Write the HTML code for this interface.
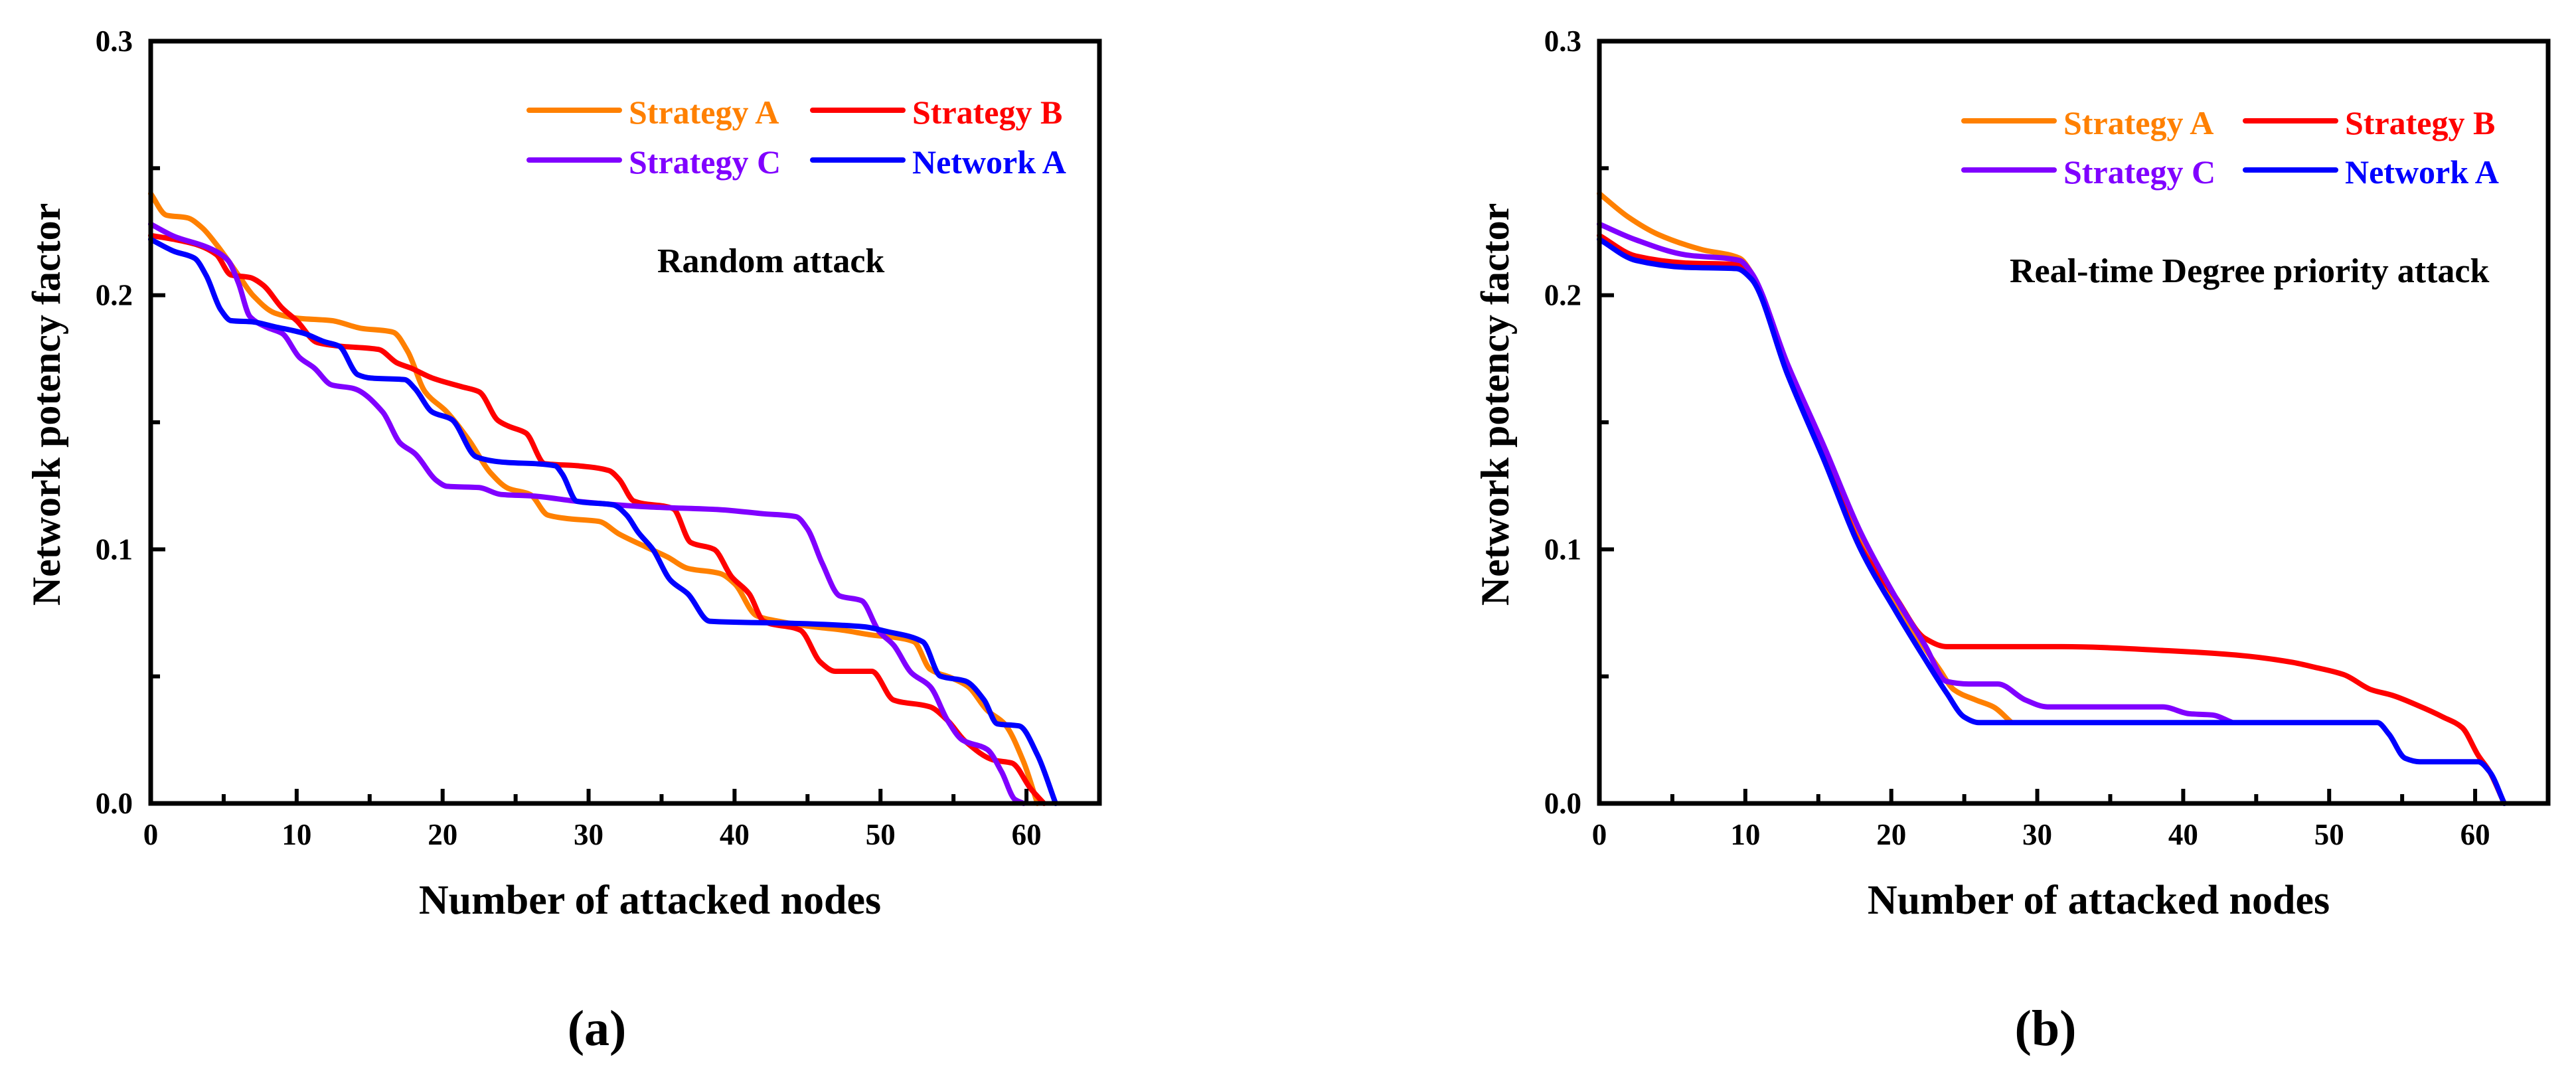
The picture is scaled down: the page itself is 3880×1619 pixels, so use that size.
<!DOCTYPE html>
<html><head><meta charset="utf-8"><style>
html,body{margin:0;padding:0;background:#fff;}
svg{display:block;font-family:"Liberation Serif",serif;}
svg text{font-family:"Liberation Serif",serif;font-weight:bold;}
</style></head>
<body>
<svg id="fig" width="3880" height="1619" viewBox="0 0 3880 1619" font-family="Liberation Serif, serif" xmlns="http://www.w3.org/2000/svg"></svg>
<script>
// ---- Panel (a): Random attack ----
const aStratA_x=[0,1.08,2.5,3.5,4.5,6,7,8.5,10,12.4,14.4,16.6,17.6,18.8,20.3,21.8,23.3,24.5,26,27.2,28.7,30.7,32.1,33.9,35.4,36.8,39,40,41.5,43,45,47.4,49.4,51.4,52.3,53.4,54.9,56,57.3,58.5,59.8,60.75];
const aStratA_y=[0.240,0.2315,0.2305,0.2267,0.220,0.208,0.2,0.193,0.191,0.190,0.187,0.1855,0.178,0.162,0.154,0.143,0.130,0.124,0.1216,0.1135,0.112,0.111,0.106,0.101,0.097,0.0925,0.0905,0.0865,0.0739,0.0717,0.0698,0.0682,0.0663,0.065,0.0636,0.0528,0.0493,0.046,0.0367,0.0313,0.0164,0];
const aStratB_x=[0,1.6,3.1,4.5,5.5,6.8,7.7,9,10,11.4,12.9,15.6,16.9,17.8,19.3,21.3,22.5,23.8,24.5,25.7,27,29.2,31.4,32.1,33.1,35.8,37,38.6,39.8,41,42,44.5,45.9,46.9,49.4,50.9,53.4,54.6,55.8,57.8,59,60.3,61.2];
const aStratB_y=[0.2235,0.222,0.220,0.216,0.208,0.207,0.204,0.195,0.190,0.1814,0.180,0.1787,0.1733,0.1714,0.1674,0.164,0.162,0.1507,0.1485,0.1458,0.1337,0.1329,0.131,0.1275,0.119,0.116,0.1027,0.1,0.0892,0.0825,0.0717,0.0682,0.0555,0.052,0.052,0.0407,0.038,0.0326,0.0245,0.017,0.0159,0.0057,0];
const aStratC_x=[0,1.6,4,5.3,6,6.8,8,9,10.2,11.2,12.4,13.9,15.9,17.1,18.1,19.6,20.3,22.5,24,26.2,29.2,34.1,39,42,44.2,45,46,47.2,48.7,49.9,50.9,52.1,53.4,54.6,55.6,57.3,58.3,59.2,59.8];
const aStratC_y=[0.228,0.2232,0.2186,0.2137,0.205,0.1916,0.1873,0.185,0.1755,0.1714,0.1647,0.1633,0.154,0.1418,0.1377,0.127,0.1248,0.1243,0.1216,0.121,0.1189,0.1167,0.1156,0.114,0.1129,0.108,0.0946,0.0817,0.0798,0.0677,0.0623,0.0515,0.046,0.0326,0.025,0.0213,0.0124,0.0016,0];
const aNetA_x=[0,1.6,3,3.8,4.8,5.5,7,8.5,10.5,11.9,12.9,14.2,15.1,17.4,18.1,19.3,20.6,22.3,23.8,27.7,28.2,29.2,31.7,32.6,33.4,34.4,35.6,36.8,38.3,44,48.9,50.4,52.9,54.1,55.8,57.1,58,59.5,60.75,62];
const aNetA_y=[0.222,0.2173,0.2146,0.2078,0.1943,0.190,0.1895,0.1876,0.185,0.1817,0.180,0.1687,0.1674,0.1668,0.1633,0.154,0.1512,0.1364,0.1345,0.1329,0.1296,0.1189,0.1175,0.1135,0.1067,0.1,0.0879,0.0825,0.0717,0.0709,0.0695,0.0677,0.0636,0.0501,0.0482,0.0407,0.0313,0.0305,0.0191,0];
// ---- Panel (b): Real-time Degree priority attack ----
const bStratA_x=[0,2,4,7,9.6,10.4,12.9,15.4,17.9,20.3,23.3,24.3,25.8,27,28.2];
const bStratA_y=[0.240,0.2307,0.224,0.218,0.2146,0.209,0.17,0.1377,0.1027,0.0784,0.0528,0.0447,0.0407,0.038,0.032];
const bStratB_x=[0,2.5,5.9,9.6,10.4,12.9,15.4,17.9,20.3,22.3,23.8,31.7,39,44,47.5,49,51,52.9,54.3,56.1,57.8,59.1,60.2,61,62];
const bStratB_y=[0.2235,0.2154,0.2127,0.212,0.2078,0.170,0.137,0.101,0.0811,0.065,0.0617,0.0617,0.0601,0.0582,0.0555,0.0536,0.0507,0.0447,0.0426,0.0385,0.034,0.0299,0.019,0.0124,0];
const bStratC_x=[0,2.5,5.9,9.6,10.4,12.9,15.4,17.9,20.3,22.3,23.8,25.3,27.3,29.2,30.7,38.6,40.4,42,43.3];
const bStratC_y=[0.228,0.2218,0.2159,0.2137,0.209,0.1728,0.1404,0.1067,0.0811,0.0623,0.048,0.047,0.047,0.0407,0.038,0.038,0.0353,0.0348,0.032];
const bNetA_x=[0,2.5,5.9,9.4,10.4,12.9,15.4,17.9,20.3,22.3,23.8,25,26,34.2,53.3,54.1,55.2,56.2,60.2,61,62];
const bNetA_y=[0.222,0.2137,0.211,0.2105,0.2065,0.1687,0.135,0.1,0.0757,0.0569,0.0434,0.034,0.0318,0.0318,0.0318,0.0272,0.0178,0.0164,0.0164,0.0124,0];

const xTicks=[0,10,20,30,40,50,60];
const yTicks=[0,0.1,0.2,0.3];
const yTickLabels=["0.0","0.1","0.2","0.3"];
const seriesNames=["Strategy A","Strategy B","Strategy C","Network A"];

const NS="http://www.w3.org/2000/svg";
const svg=document.getElementById('fig');
function mk(tag,attrs,parent){const e=document.createElementNS(NS,tag);for(const k in attrs)e.setAttribute(k,attrs[k]);(parent||svg).appendChild(e);return e;}

const colors={"Strategy A":"#ff8000","Strategy B":"#ff0000","Strategy C":"#8000ff","Network A":"#0000ff"};
const B=1210,T=62,W=1429;
function smooth(pts){
  const n=pts.length;
  const dx=[],m=[];
  for(let i=0;i<n-1;i++){dx[i]=pts[i+1][0]-pts[i][0];m[i]=(pts[i+1][1]-pts[i][1])/dx[i];}
  const t=[];
  t[0]=m[0];t[n-1]=m[n-2];
  for(let i=1;i<n-1;i++){
    if(m[i-1]*m[i]<=0)t[i]=0;
    else{const w1=2*dx[i]+dx[i-1],w2=dx[i]+2*dx[i-1];t[i]=(w1+w2)/(w1/m[i-1]+w2/m[i]);}
  }
  let d="M"+pts[0][0].toFixed(1)+","+pts[0][1].toFixed(1);
  for(let i=0;i<n-1;i++){
    const h=dx[i]/3;
    d+=" C"+(pts[i][0]+h).toFixed(1)+","+(pts[i][1]+t[i]*h).toFixed(1)+" "+(pts[i+1][0]-h).toFixed(1)+","+(pts[i+1][1]-t[i+1]*h).toFixed(1)+" "+pts[i+1][0].toFixed(1)+","+pts[i+1][1].toFixed(1);
  }
  return d;
}
function panel(id,L,series,legend,note,noteX,noteY,letter){
  const g=mk('g',{});
  
  
  const sx=v=>L+v*(W/65);
  const sy=v=>B-v*((B-T)/0.3);
  const order=[["Strategy A",series[0]],["Strategy B",series[1]],["Strategy C",series[2]],["Network A",series[3]]];
  order.forEach(([nm,s])=>{
    const pts=s[0].map((x,i)=>[sx(x),sy(s[1][i])]);
    const p=mk('path',{d:smooth(pts),fill:'none',stroke:colors[nm],'stroke-width':8,'stroke-linejoin':'round','stroke-linecap':'round'},g);
    
    
  });
  const fr=mk('rect',{x:L,y:T,width:W,height:B-T,fill:'none',stroke:'#000','stroke-width':7},g);
  
  
  for(let v=0;v<=65;v+=5){
    const len=(v%10===0)?22:14;
    mk('line',{x1:sx(v),x2:sx(v),y1:B,y2:B-len,stroke:'#000','stroke-width':6},g);
  }
  xTicks.forEach(v=>{
    const t=mk('text',{x:sx(v),y:1272,'font-size':45,'text-anchor':'middle','font-family':'Liberation Serif, serif','font-weight':'bold'},g);
    t.textContent=v;
    
    
  });
  for(let k=0;k<=6;k++){
    const v=k*0.05;const len=(k%2===0)?22:14;
    mk('line',{x1:L,x2:L+len,y1:sy(v),y2:sy(v),stroke:'#000','stroke-width':6},g);
  }
  yTicks.forEach((v,i)=>{
    const t=mk('text',{x:L-27,y:sy(v)+15,'font-size':45,'text-anchor':'end','font-family':'Liberation Serif, serif','font-weight':'bold'},g);
    t.textContent=yTickLabels[i];
    
    
  });
  const xt=mk('text',{x:L+752,y:1376,'font-size':62,'text-anchor':'middle','font-family':'Liberation Serif, serif','font-weight':'bold'},g);
  xt.textContent="Number of attacked nodes";
  
  
  const yt=mk('text',{x:0,y:0,'font-size':60,'text-anchor':'middle','font-family':'Liberation Serif, serif','font-weight':'bold',transform:`translate(${L-137},609) rotate(-90)`},g);
  yt.textContent="Network potency factor";
  
  
  legend.forEach(([nm,lx,ly])=>{
    const lg=mk('g',{},g);
    
    
    mk('line',{x1:lx,x2:lx+136,y1:ly,y2:ly,stroke:colors[nm],'stroke-width':8,'stroke-linecap':'round'},lg);
    const t=mk('text',{x:lx+150,y:ly+20,'font-size':50,fill:colors[nm],'font-family':'Liberation Serif, serif','font-weight':'bold'},lg);
    t.textContent=nm;
  });
  const nt=mk('text',{x:noteX,y:noteY,'font-size':52,'font-family':'Liberation Serif, serif','font-weight':'bold'},g);
  nt.textContent=note;
  
  
  const pl=mk('text',{x:L+672,y:1574,'font-size':76,'text-anchor':'middle','font-family':'Liberation Serif, serif','font-weight':'normal'},g);
  pl.innerHTML='(<tspan font-weight="bold">'+letter+'</tspan>)';
  
  
}
panel('a',227,[[aStratA_x,aStratA_y],[aStratB_x,aStratB_y],[aStratC_x,aStratC_y],[aNetA_x,aNetA_y]],
  [["Strategy A",797,166],["Strategy B",1224,166],["Strategy C",797,241],["Network A",1224,241]],
  "Random attack",990,410,'a');
panel('b',2409,[[bStratA_x,bStratA_y],[bStratB_x,bStratB_y],[bStratC_x,bStratC_y],[bNetA_x,bNetA_y]],
  [["Strategy A",2958,182],["Strategy B",3382,182],["Strategy C",2958,256],["Network A",3382,256]],
  "Real-time Degree priority attack",3027,425,'b');
</script>
</body></html>
